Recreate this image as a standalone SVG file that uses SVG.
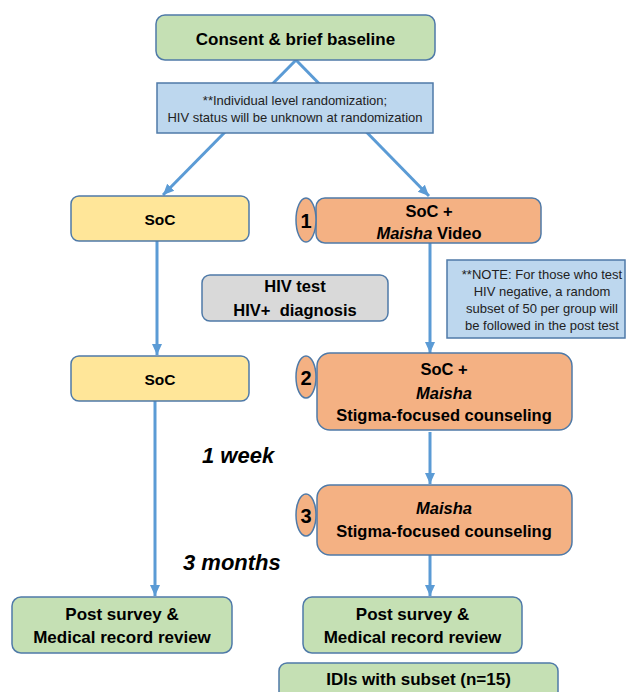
<svg xmlns="http://www.w3.org/2000/svg" width="627" height="692" viewBox="0 0 627 692">
<style>
text{font-family:"Liberation Sans",Arial,sans-serif;fill:#000;text-anchor:middle}
.b{font-weight:bold}
.t15{font-size:15.5px}
.t16{font-size:16.5px}
.t17{font-size:17px}
.n{font-size:13px;fill:#222}
.num{font-size:20px;font-weight:bold}
.time{font-size:22px;font-weight:bold;font-style:italic;text-anchor:start}
.it{font-style:italic}
.box{stroke:#4f7aa8;stroke-width:1.5}
.green{fill:#c5e0b4}
.yellow{fill:#ffe699}
.orange{fill:#f4b183}
.blue{fill:#bdd7ee}
.gray{fill:#d9d9d9}
.conn{stroke:#5b9bd5;stroke-width:3;fill:none}
</style>
<defs>
<marker id="ah" markerUnits="userSpaceOnUse" markerWidth="12" markerHeight="12" viewBox="0 0 12 12" refX="11" refY="6" orient="auto">
<path d="M0,1 L11,6 L0,11 z" fill="#5b9bd5"/>
</marker>
</defs>
<rect width="627" height="692" fill="#fff"/>
<g id="connectors">
<line class="conn" x1="296" y1="60" x2="163" y2="195" marker-end="url(#ah)"/>
<line class="conn" x1="296" y1="60" x2="429" y2="196" marker-end="url(#ah)"/>
<line class="conn" x1="157" y1="241" x2="157" y2="355" marker-end="url(#ah)"/>
<line class="conn" x1="155" y1="401" x2="155" y2="596" marker-end="url(#ah)"/>
<line class="conn" x1="430" y1="243" x2="430" y2="353" marker-end="url(#ah)"/>
<line class="conn" x1="430" y1="432" x2="430" y2="484" marker-end="url(#ah)"/>
<line class="conn" x1="430" y1="555" x2="430" y2="596" marker-end="url(#ah)"/>
</g>
<g id="consent">
<rect class="box green" x="156" y="15" width="279" height="45" rx="9"/>
<text class="b t17" x="295.5" y="45">Consent &amp; brief baseline</text>
</g>
<g id="randomization">
<rect class="box blue" x="157" y="83" width="276" height="50"/>
<text class="n" x="295" y="105">**Individual level randomization;</text>
<text class="n" x="295" y="122">HIV status will be unknown at randomization</text>
</g>
<g id="soc1">
<rect class="box yellow" x="71" y="196" width="178" height="45" rx="8"/>
<text class="b t15" x="160" y="225">SoC</text>
</g>
<g id="soc2">
<rect class="box yellow" x="71" y="356" width="178" height="45" rx="8"/>
<text class="b t15" x="160" y="385">SoC</text>
</g>
<g id="hivtest">
<rect class="box gray" x="202" y="275" width="186" height="46" rx="8"/>
<text class="b t16" x="295" y="292">HIV test</text>
<text class="b t16" x="295" y="316" xml:space="preserve">HIV+  diagnosis</text>
</g>
<g id="step1">
<rect class="box orange" x="316" y="198" width="225" height="45" rx="9"/>
<ellipse class="box orange" cx="306" cy="220" rx="10" ry="22"/>
<text class="num" x="306" y="228">1</text>
<text class="b t16" x="429" y="217">SoC +</text>
<text class="b t16" x="429" y="239"><tspan class="it">Maisha</tspan> Video</text>
</g>
<g id="note">
<rect class="box blue" x="447" y="260" width="178" height="78"/>
<text class="n" x="542" y="279">**NOTE: For those who test</text>
<text class="n" x="542" y="296">HIV negative, a random</text>
<text class="n" x="542" y="313">subset of 50 per group will</text>
<text class="n" x="542" y="330">be followed in the post test</text>
</g>
<g id="step2">
<rect class="box orange" x="317" y="353" width="255" height="77" rx="13"/>
<ellipse class="box orange" cx="306" cy="377" rx="10" ry="21"/>
<text class="num" x="306" y="385">2</text>
<text class="b t16" x="444" y="375">SoC +</text>
<text class="b t16 it" x="444" y="399">Maisha</text>
<text class="b t16" x="444" y="421">Stigma-focused counseling</text>
</g>
<g id="step3">
<rect class="box orange" x="317" y="485" width="255" height="70" rx="13"/>
<ellipse class="box orange" cx="306" cy="515" rx="10" ry="21"/>
<text class="num" x="306" y="523">3</text>
<text class="b t16 it" x="444" y="514">Maisha</text>
<text class="b t16" x="444" y="537">Stigma-focused counseling</text>
</g>
<g id="week">
<text class="time" x="202" y="463">1 week</text>
</g>
<g id="months">
<text class="time" x="183" y="570">3 months</text>
</g>
<g id="post-left">
<rect class="box green" x="12" y="597" width="220" height="56" rx="9"/>
<text class="b t17" x="122" y="620">Post survey &amp;</text>
<text class="b t17" x="122" y="643">Medical record review</text>
</g>
<g id="post-right">
<rect class="box green" x="303" y="597" width="219" height="56" rx="9"/>
<text class="b t17" x="412.5" y="620">Post survey &amp;</text>
<text class="b t17" x="412.5" y="643">Medical record review</text>
</g>
<g id="idis">
<rect class="box green" x="279" y="663" width="279" height="40" rx="8"/>
<text class="b t17" x="418.5" y="685">IDIs with subset (n=15)</text>
</g>
</svg>
